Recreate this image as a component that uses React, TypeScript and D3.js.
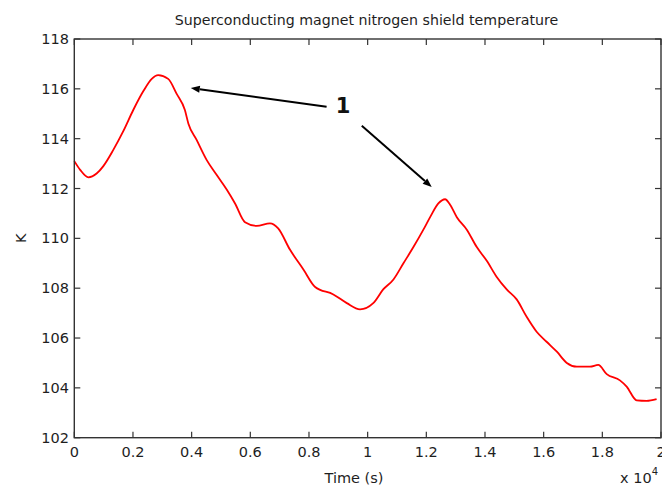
import React from "react";
import * as d3 from "d3";

// Shield temperature record (time in seconds, temperature in kelvin)
const timeSec = [
  0, 200, 480, 760, 990, 1330, 1670, 2010, 2350, 2640, 2860, 3200, 3490, 3770,
  3890, 4170, 4510, 4850, 5200, 5480, 5820, 6220, 6670, 6950, 7350, 7810, 8210,
  8830, 9290, 9740, 10190, 10530, 10880, 11220, 11560, 11900, 12130, 12410,
  12640, 12810, 13040, 13380, 13720, 14060, 14400, 14740, 15080, 15420, 15760,
  16100, 16450, 16790, 17130, 17580, 17860, 18150, 18600, 18830, 19170, 19510,
  19850,
];
const tempK = [
  113.1, 112.75, 112.45, 112.6, 112.9, 113.55, 114.3, 115.15, 115.9, 116.4,
  116.55, 116.4, 115.8, 115.15, 114.6, 113.95, 113.15, 112.55, 111.95, 111.4,
  110.65, 110.5, 110.6, 110.4, 109.55, 108.75, 108.05, 107.75, 107.4, 107.15,
  107.4, 107.95, 108.35, 109.0, 109.65, 110.35, 110.85, 111.4, 111.57, 111.35,
  110.85, 110.35, 109.65, 109.1, 108.45, 107.95, 107.55, 106.85, 106.25,
  105.85, 105.45, 105.0, 104.85, 104.85, 104.92, 104.55, 104.3, 104.05, 103.5,
  103.48, 103.55,
];

// Axis ticks
const xTickValues = [0, 2000, 4000, 6000, 8000, 10000, 12000, 14000, 16000, 18000, 20000];
const xTickLabels = ["0", "0.2", "0.4", "0.6", "0.8", "1", "1.2", "1.4", "1.6", "1.8", "2"];
const yTickValues = [102, 104, 106, 108, 110, 112, 114, 116, 118];

// Annotation arrows, in data units: [tailT, tailK, tipT, tipK]
const arrowSegments = [
  [8600, 115.28, 3970, 116.03],
  [9800, 114.52, 12184, 112.06],
];
const annotationLabel = { t: 9160, k: 115.05, text: "1" };

const W = 662;
const H = 485;
const left = 74.3;
const right = 661;
const top = 39;
const bottom = 437.7;

const FONT = "'DejaVu Sans', sans-serif";
const TEXT = "#1e1e1e";
const AXIS = "#333";

export default function App() {
  const x = d3.scaleLinear().domain([0, 20000]).range([left, right]);
  const y = d3.scaleLinear().domain([102, 118]).range([bottom, top]);

  const pts: [number, number][] = timeSec.map((t, i) => [t, tempK[i]]);
  const line = d3
    .line<[number, number]>()
    .x((d) => x(d[0]))
    .y((d) => y(d[1]))
    .curve(d3.curveMonotoneX);

  const tickLen = 6;

  return (
    <svg
      width={W}
      height={H}
      style={{ position: "absolute", left: 0, top: 0, background: "#fff" }}
      fontFamily={FONT}
    >
      <rect x={0} y={0} width={W} height={H} fill="#fff" />

      {/* title */}
      <text x={366.5} y={25} textAnchor="middle" fontSize={14.2} fill={TEXT}>
        Superconducting magnet nitrogen shield temperature
      </text>

      {/* data line */}
      <path d={line(pts) ?? ""} fill="none" stroke="#ff0000" strokeWidth={1.8} strokeLinejoin="round" />

      {/* frame */}
      <rect
        x={left}
        y={top}
        width={right - left}
        height={bottom - top}
        fill="none"
        stroke={AXIS}
        strokeWidth={1.4}
      />

      {/* x ticks */}
      {xTickValues.map((v, i) => (
        <g key={"x" + v}>
          <line x1={x(v)} x2={x(v)} y1={bottom} y2={bottom - tickLen} stroke={AXIS} strokeWidth={1.2} />
          <line x1={x(v)} x2={x(v)} y1={top} y2={top + tickLen} stroke={AXIS} strokeWidth={1.2} />
          <text x={x(v)} y={456.7} textAnchor="middle" fontSize={14.5} fill={TEXT}>
            {xTickLabels[i]}
          </text>
        </g>
      ))}

      {/* y ticks */}
      {yTickValues.map((v) => (
        <g key={"y" + v}>
          <line x1={left} x2={left + tickLen} y1={y(v)} y2={y(v)} stroke={AXIS} strokeWidth={1.2} />
          <line x1={right} x2={right - tickLen} y1={y(v)} y2={y(v)} stroke={AXIS} strokeWidth={1.2} />
          <text x={69} y={y(v) + 5} textAnchor="end" fontSize={14.5} fill={TEXT}>
            {v}
          </text>
        </g>
      ))}

      {/* axis labels */}
      <text x={354} y={483} textAnchor="middle" fontSize={14.5} fill={TEXT}>
        Time (s)
      </text>
      <text
        transform={`translate(26, ${(top + bottom) / 2}) rotate(-90)`}
        textAnchor="middle"
        fontSize={14.5}
        fill={TEXT}
      >
        K
      </text>
      <text x={620} y={483} fontSize={14.5} fill={TEXT}>
        x 10
        <tspan fontSize={10} dy={-8}>
          4
        </tspan>
      </text>

      {/* annotations */}
      {arrowSegments.map((s, i) => {
        const x1 = x(s[0]);
        const y1 = y(s[1]);
        const x2 = x(s[2]);
        const y2 = y(s[3]);
        const ang = Math.atan2(y2 - y1, x2 - x1);
        const hl = 9;
        const hw = 3.5;
        const bx = x2 - hl * Math.cos(ang);
        const by = y2 - hl * Math.sin(ang);
        const px = -Math.sin(ang) * hw;
        const py = Math.cos(ang) * hw;
        return (
          <g key={"a" + i}>
            <line x1={x1} y1={y1} x2={bx} y2={by} stroke="#000" strokeWidth={2} />
            <polygon
              points={`${x2},${y2} ${bx + px},${by + py} ${bx - px},${by - py}`}
              fill="#000"
            />
          </g>
        );
      })}
      <text
        x={x(annotationLabel.t)}
        y={y(annotationLabel.k)}
        textAnchor="middle"
        fontSize={21}
        fontWeight="bold"
        fill="#111"
      >
        {annotationLabel.text}
      </text>
    </svg>
  );
}
